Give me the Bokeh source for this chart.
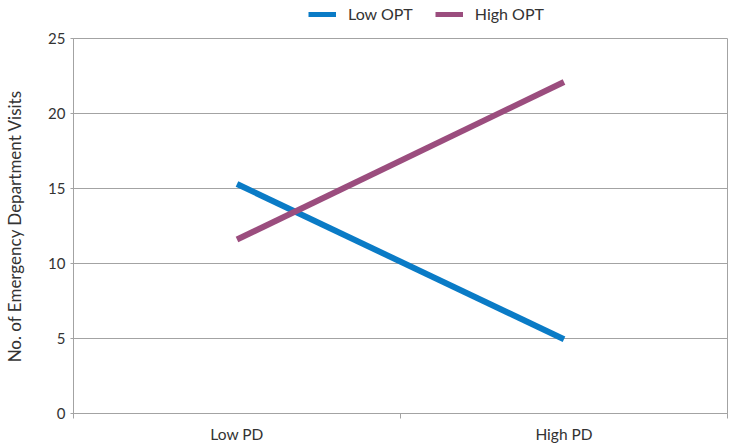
from bokeh.plotting import figure
from bokeh.layouts import column
from bokeh.models import Range1d, FixedTicker, Legend, LegendItem
from bokeh.embed import file_html
from bokeh.resources import INLINE

categories = ["Low PD", "High PD"]
series_names = ["Low OPT", "High OPT"]
low_opt = [15.3, 4.95]
high_opt = [11.6, 22.1]
y_ticks = [0, 5, 10, 15, 20, 25]
colors = ["#0a7bc6", "#9b4d7e"]

FONT = "Lato"
GRID = "#a3a3a3"
TXT = "#333333"

xs = [i + 0.5 for i in range(len(categories))]

p = figure(width=729, height=417, output_backend="svg", toolbar_location=None,
           x_range=Range1d(0, len(categories)), y_range=Range1d(0, 25),
           min_border_left=73, min_border_right=2, min_border_top=8, min_border_bottom=34)

for vals, col in zip([low_opt, high_opt], colors):
    p.line(xs, vals, line_width=6, line_color=col, line_cap="butt")

p.xaxis.ticker = FixedTicker(ticks=xs, minor_ticks=list(range(len(categories) + 1)))
p.xaxis.major_label_overrides = {x: c for x, c in zip(xs, categories)}
p.xaxis.major_tick_line_color = None
p.xaxis.major_tick_out = 0
p.xaxis.major_tick_in = 0
p.xaxis.minor_tick_line_color = GRID
p.xaxis.minor_tick_out = 5
p.xaxis.minor_tick_in = 0
p.xaxis.axis_line_color = GRID
p.xaxis.major_label_text_font = FONT
p.xaxis.major_label_text_font_size = "15.5px"
p.xaxis.major_label_text_color = TXT
p.xaxis.major_label_standoff = 6
p.xgrid.grid_line_color = None

p.yaxis.ticker = FixedTicker(ticks=y_ticks, minor_ticks=[])
p.yaxis.axis_line_color = GRID
p.yaxis.major_tick_line_color = GRID
p.yaxis.major_tick_out = 3
p.yaxis.major_tick_in = 0
p.yaxis.major_label_standoff = 5
p.yaxis.major_label_text_font = FONT
p.yaxis.major_label_text_font_size = "15px"
p.yaxis.major_label_text_color = TXT
p.yaxis.axis_label = "No. of Emergency Department Visits"
p.yaxis.axis_label_text_font = FONT
p.yaxis.axis_label_text_font_size = "17px"
p.yaxis.axis_label_text_font_style = "normal"
p.yaxis.axis_label_text_color = TXT
p.yaxis.axis_label_standoff = 20
p.ygrid.grid_line_color = GRID
p.ygrid.grid_line_width = 1
p.outline_line_color = GRID

# legend strip above the chart (its frame aligns with the main frame)
lg = figure(width=729, height=30, output_backend="svg", toolbar_location=None,
            x_range=Range1d(0, 1), y_range=Range1d(0, 1),
            x_axis_type=None, y_axis_type=None, min_border=0)
lg.grid.visible = False
lg.outline_line_color = None
items = []
for name, col in zip(series_names, colors):
    r = lg.line(x=[float("nan")], y=[float("nan")], line_width=5, line_color=col, line_cap="butt")
    items.append(LegendItem(label=name, renderers=[r]))
legend = Legend(items=items, orientation="horizontal", location=(235, 7),
                label_text_font=FONT, label_text_font_size="16px", label_text_color=TXT,
                glyph_width=28, glyph_height=16, spacing=22, label_standoff=12,
                border_line_color=None, background_fill_alpha=0, padding=0, margin=0)
lg.add_layout(legend, "center")

layout = column(lg, p, spacing=0)
open("out.html", "w").write(file_html(layout, INLINE))
